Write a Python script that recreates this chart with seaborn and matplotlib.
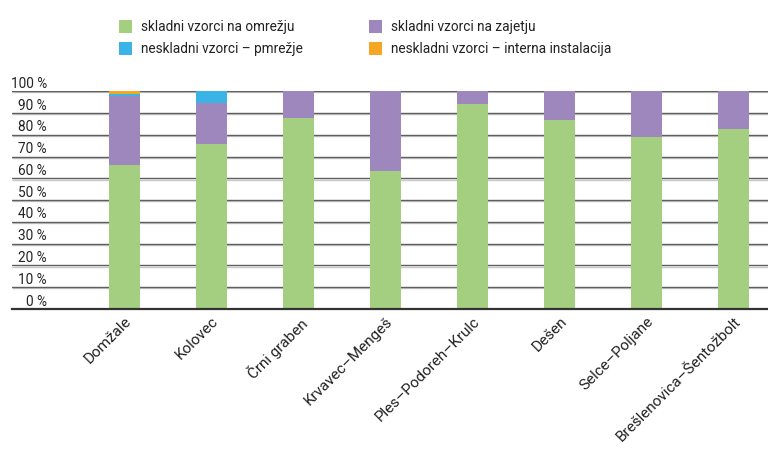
import matplotlib
matplotlib.use("Agg")
import matplotlib.pyplot as plt
import matplotlib.transforms as mtransforms
from matplotlib.patches import Patch
import numpy as np
import pandas as pd
import seaborn as sns

categories = ["Domžale", "Kolovec", "Črni graben", "Krvavec–Mengeš",
              "Ples–Podoreh–Krulc", "Dešen", "Selce–Poljane",
              "Brešlenovica–Šentožbolt"]
skladni_omrezje = [66.0, 75.7, 87.9, 63.3, 94.0, 87.0, 79.2, 82.9]
skladni_zajetje = [31.8, 18.7, 12.1, 36.7, 6.0, 13.0, 20.8, 17.1]
neskladni_omrezje = [1.1, 5.6, 0, 0, 0, 0, 0, 0]
neskladni_interna = [1.1, 0, 0, 0, 0, 0, 0, 0]

series_labels = ["skladni vzorci na omrežju", "skladni vzorci na zajetju",
                 "neskladni vzorci – pmrežje", "neskladni vzorci – interna instalacija"]
colors = ["#A5CF80", "#9D87BD", "#3AB4E6", "#F5A623"]
ytick_values = list(range(0, 101, 10))
ytick_labels = [f"{v} %" for v in ytick_values]

sns.set_theme(style="white")
plt.rcParams["font.family"] = ["Roboto", "DejaVu Sans"]

fig = plt.figure(figsize=(7.68, 4.49), dpi=100)
ax = fig.add_axes([12 / 768, 0.3118, 1 - 12 / 768, 0.4849])

df = pd.DataFrame({
    "cat": categories,
    "s1": skladni_omrezje,
    "s2": skladni_zajetje,
    "s3": neskladni_omrezje,
    "s4": neskladni_interna,
})
cum = df[["s1", "s2", "s3", "s4"]].cumsum(axis=1)
# draw from the tallest cumulative stack down
for col, color in zip(["s4", "s3", "s2", "s1"], colors[::-1]):
    sns.barplot(x=df["cat"], y=cum[col], color=color, width=0.356,
                saturation=1, ax=ax, zorder=3, linewidth=0)

ax.set_xlim(-1.293, 7.396)
ax.set_ylim(0, 100)
ax.set_xlabel("")
ax.set_ylabel("")
ax.set_yticks(ytick_values)
ax.set_yticklabels([])
ax.tick_params(axis="y", length=0)
ax.tick_params(axis="x", length=0, pad=4)
for s in ["top", "right", "left"]:
    ax.spines[s].set_visible(False)
ax.spines["bottom"].set_color("#333333")
ax.spines["bottom"].set_linewidth(1.6)
ax.spines["bottom"].set_zorder(4)

ax.grid(axis="y", color="#5f5f5f", linewidth=1.0, zorder=0)
ax.set_axisbelow(True)
# light shadow line just below each gridline
shadow = mtransforms.offset_copy(ax.transData, fig=fig, x=0, y=-1.2, units="dots")
for v in ytick_values[1:]:
    ax.plot([-1.293, 7.396], [v, v], color="#c8c8c8", lw=1.0, transform=shadow,
            zorder=0.5, solid_capstyle="butt")

ax.set_xticks(range(len(categories)))
ax.set_xticklabels(categories, rotation=45, ha="right", rotation_mode="anchor",
                   fontsize=11.0, color="#222222")

trans = mtransforms.blended_transform_factory(ax.transAxes, ax.transData)
trans = mtransforms.offset_copy(trans, fig=fig, x=0, y=3.5, units="dots")
for v, lab in zip(ytick_values, ytick_labels):
    ax.text(35 / 756, v, lab, transform=trans, ha="right", va="baseline",
            fontsize=9.8, color="#222222", clip_on=False)

handles = [Patch(facecolor=c, edgecolor="none") for c in
           [colors[0], colors[2], colors[1], colors[3]]]
labels = [series_labels[0], series_labels[2], series_labels[1], series_labels[3]]
fig.legend(handles, labels, loc="upper left", bbox_to_anchor=(112 / 768, 1 - 13 / 449),
           ncol=2, frameon=False, fontsize=9.8, handlelength=0.95, handleheight=1.15,
           handletextpad=0.65, columnspacing=4.9, labelspacing=0.55, borderpad=0,
           labelcolor="#222222")

fig.savefig("out.png", dpi=100)
